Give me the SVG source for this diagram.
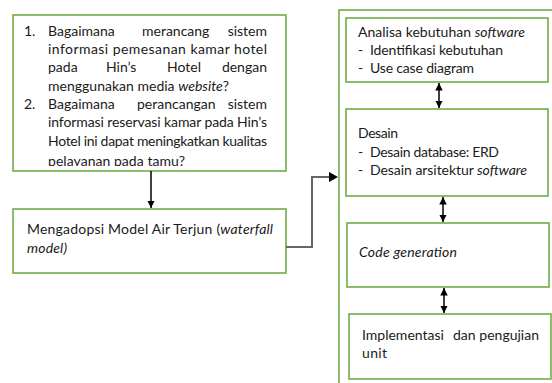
<svg xmlns="http://www.w3.org/2000/svg" width="552" height="383" viewBox="0 0 552 383">
<style>
.box{fill:#fff;stroke:#70AD47;stroke-width:1.6}
.t{font-family:Lato,"Open Sans",sans-serif;font-size:14px;fill:#1a1a1a}
.i{font-style:italic}
.conn{fill:none;stroke:#000;stroke-width:1.5}
</style>
<defs>
<marker id="ah" viewBox="0 0 10 10" refX="10" refY="5" markerWidth="5" markerHeight="5" orient="auto-start-reverse" markerUnits="strokeWidth">
<path d="M0,0 L10,5 L0,10 z" fill="#000"/>
</marker>
<clipPath id="c1"><rect x="13" y="15" width="273" height="151"/></clipPath>
</defs>
<rect width="552" height="383" fill="#fff"/>

<g id="problem">
<rect class="box" x="13" y="15" width="273" height="156"/>
<g class="t" clip-path="url(#c1)">
<text x="24" y="36">1.</text>
<text x="48" y="36">Bagaimana</text>
<text x="142" y="36">merancang</text>
<text x="267" y="36" text-anchor="end">sistem</text>
<text x="48" y="54" textLength="219" lengthAdjust="spacing">informasi pemesanan kamar hotel</text>
<text x="48" y="72">pada</text>
<text x="106" y="72">Hin’s</text>
<text x="167" y="72">Hotel</text>
<text x="267" y="72" text-anchor="end">dengan</text>
<text x="48" y="91" textLength="181" lengthAdjust="spacing">menggunakan media <tspan class="i">website</tspan>?</text>
<text x="24" y="109">2.</text>
<text x="48" y="109">Bagaimana</text>
<text x="137" y="109">perancangan</text>
<text x="267" y="109" text-anchor="end">sistem</text>
<text x="48" y="127" textLength="219" lengthAdjust="spacing">informasi reservasi kamar pada Hin’s</text>
<text x="48" y="146" textLength="219" lengthAdjust="spacing">Hotel ini dapat meningkatkan kualitas</text>
<text x="48" y="166" textLength="137" lengthAdjust="spacing">pelayanan pada tamu?</text>
</g>
</g>

<g id="waterfall">
<rect class="box" x="13" y="209" width="273" height="64"/>
<text class="t" x="27" y="234" textLength="246" lengthAdjust="spacing">Mengadopsi Model Air Terjun (<tspan class="i">waterfall</tspan></text>
<text class="t i" x="27" y="253" textLength="40" lengthAdjust="spacing">model)</text>
</g>

<g id="container">
<rect x="339" y="10" width="230" height="390" fill="none" stroke="#70AD47" stroke-width="1.6"/>
</g>

<g id="analisa">
<rect class="box" x="346" y="18" width="202" height="64"/>
<text class="t" x="358" y="37" textLength="167" lengthAdjust="spacing">Analisa kebutuhan <tspan class="i">software</tspan></text>
<text class="t" x="358" y="55">-</text>
<text class="t" x="370" y="55" textLength="133" lengthAdjust="spacing">Identifikasi kebutuhan</text>
<text class="t" x="358" y="73">-</text>
<text class="t" x="370" y="73" textLength="104" lengthAdjust="spacing">Use case diagram</text>
</g>

<g id="desain">
<rect class="box" x="346" y="109" width="202" height="87"/>
<text class="t" x="358" y="138" textLength="40" lengthAdjust="spacing">Desain</text>
<text class="t" x="358" y="157">-</text>
<text class="t" x="370" y="157" textLength="129" lengthAdjust="spacing">Desain database: ERD</text>
<text class="t" x="358" y="175">-</text>
<text class="t" x="370" y="175" textLength="157" lengthAdjust="spacing">Desain arsitektur <tspan class="i">software</tspan></text>
</g>

<g id="code">
<rect class="box" x="347" y="223" width="202" height="64"/>
<text class="t i" x="359" y="257" textLength="98" lengthAdjust="spacing">Code generation</text>
</g>

<g id="implementasi">
<rect class="box" x="349" y="314" width="202" height="65"/>
<text class="t" x="362" y="340">Implementasi</text>
<text class="t" x="453" y="340">dan</text>
<text class="t" x="539" y="340" text-anchor="end">pengujian</text>
<text class="t" x="362" y="358" textLength="25" lengthAdjust="spacing">unit</text>
</g>

<g id="connectors">
<line class="conn" x1="151" y1="171" x2="151" y2="208" marker-end="url(#ah)"/>
<polyline points="286,247 312,247 312,177 330,177" fill="none" stroke="#666" stroke-width="2"/>
<path d="M329,172 L338,177 L329,182 z" fill="#000"/>
<line class="conn" x1="439" y1="83" x2="439" y2="108" marker-start="url(#ah)" marker-end="url(#ah)"/>
<line class="conn" x1="443" y1="197" x2="443" y2="222" marker-start="url(#ah)" marker-end="url(#ah)"/>
<line class="conn" x1="444" y1="288" x2="444" y2="313" marker-start="url(#ah)" marker-end="url(#ah)"/>
</g>
</svg>
